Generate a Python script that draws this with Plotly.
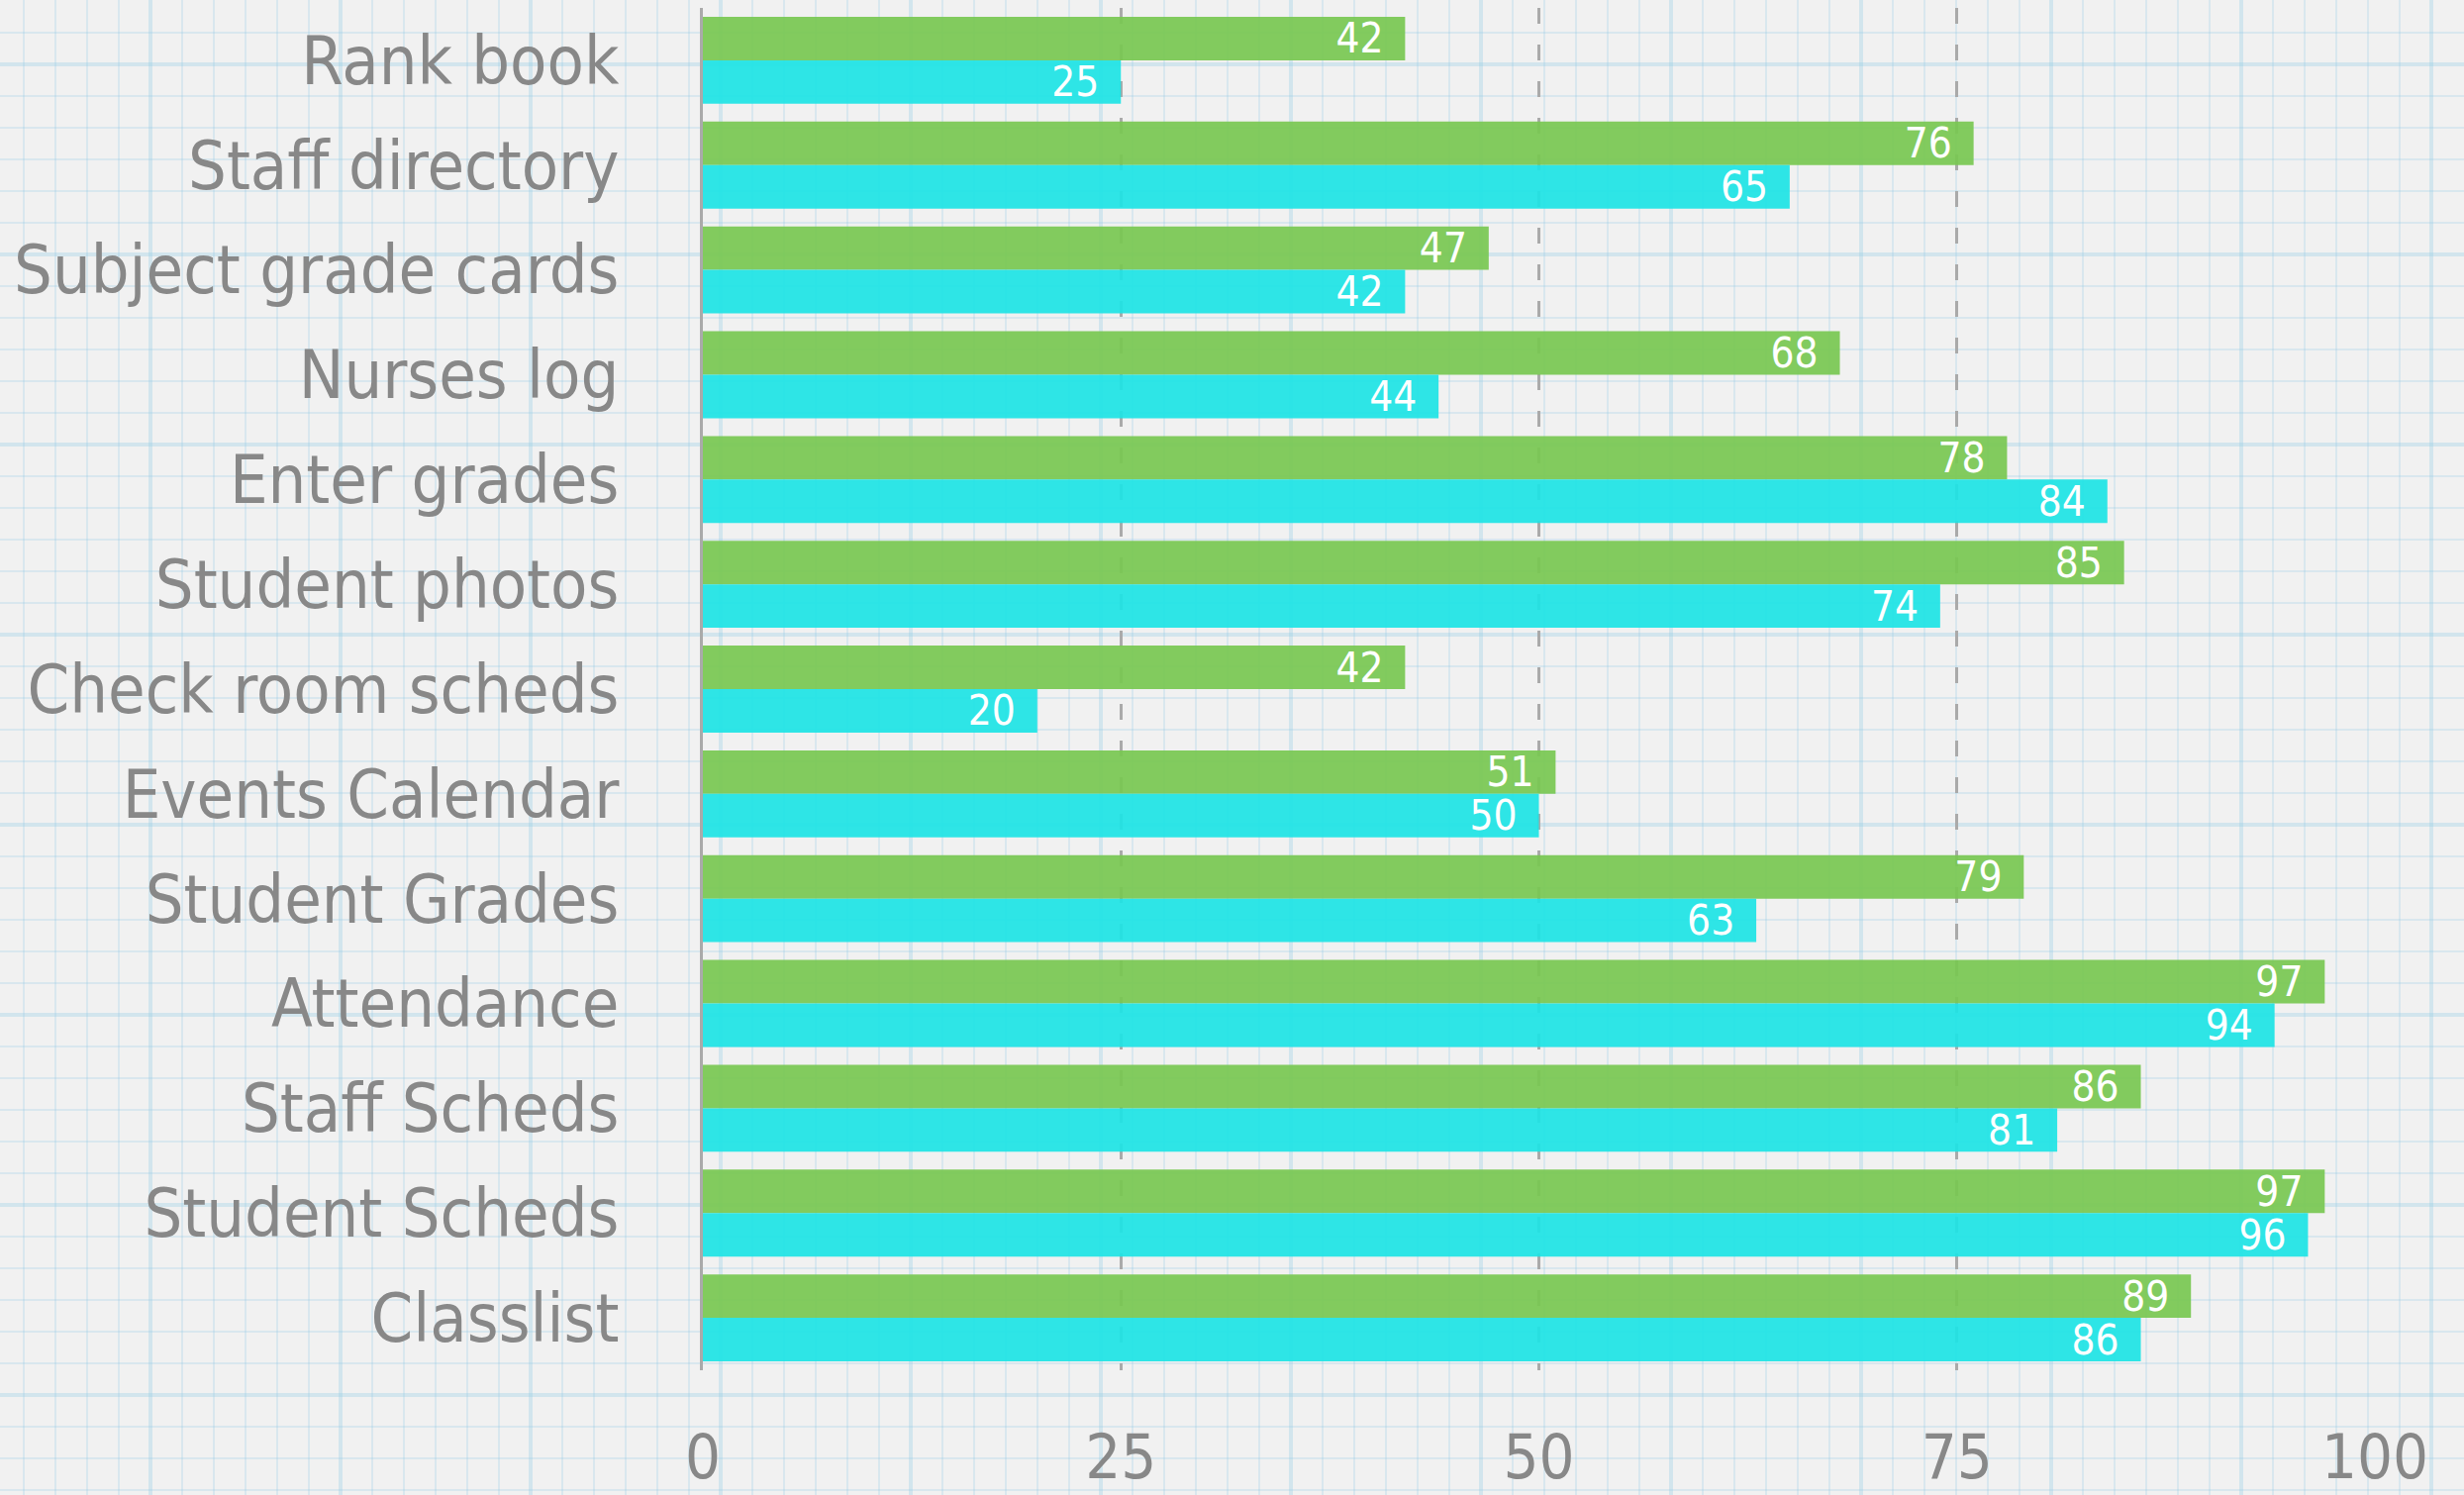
import plotly.graph_objects as go

# ---- data ----
categories = ["Rank book", "Staff directory", "Subject grade cards", "Nurses log",
              "Enter grades", "Student photos", "Check room scheds", "Events Calendar",
              "Student Grades", "Attendance", "Staff Scheds", "Student Scheds", "Classlist"]
green_vals = [42, 76, 47, 68, 78, 85, 42, 51, 79, 97, 86, 97, 89]
cyan_vals = [25, 65, 42, 44, 84, 74, 20, 50, 63, 94, 81, 96, 86]
x_tick_vals = [0, 25, 50, 75, 100]

W, H = 2489, 1510
FONT = "DejaVu Sans Condensed, Liberation Sans Narrow, DejaVu Sans, sans-serif"
LABEL_GREY = "#888888"
GREEN = "rgb(120,200,81)"
CYAN = "rgb(29,228,229)"

# graph-paper background grid positions (decoration, in pixels)
bg_x_major = list(range(152, W, 192))
bg_x_minor = [v for v in range(24, W, 32) if v not in bg_x_major]
bg_y_major = list(range(65, H, 192))
bg_y_minor = [v for v in range(1, H, 32) if v not in bg_y_major]

fig = go.Figure()

# background "graph paper" subplot (decoration only)
fig.add_trace(go.Scatter(x=[None], y=[None], xaxis="x", yaxis="y",
                         hoverinfo="skip", showlegend=False))

for vals, col, name in [(green_vals, GREEN, "Series 1"), (cyan_vals, CYAN, "Series 2")]:
    fig.add_trace(go.Bar(
        y=categories, x=vals, orientation="h", name=name,
        xaxis="x2", yaxis="y2",
        marker=dict(color=col, opacity=0.92, line=dict(width=0)),
        texttemplate="%{x}\u2002", textposition="inside", insidetextanchor="end",
        textangle=0, constraintext="none",
        textfont=dict(family=FONT, size=42, color="white"),
        hoverinfo="skip",
    ))

minor_col = "rgba(150,205,228,0.27)"
major_col = "rgba(150,205,228,0.34)"

bg_axis_common = dict(fixedrange=True, showticklabels=False, ticks="", zeroline=False,
                      showline=False, showgrid=True, tickmode="array",
                      gridcolor=major_col, gridwidth=4)

fig.update_layout(
    width=W, height=H,
    margin=dict(l=0, r=0, t=0, b=0, pad=0),
    paper_bgcolor="#f1f1f1",
    plot_bgcolor="rgba(0,0,0,0)",
    showlegend=False,
    barmode="group", bargap=0.17, bargroupgap=0,
    hovermode=False,
    font=dict(family=FONT, color=LABEL_GREY),
    xaxis=dict(domain=[0, 1], anchor="y", range=[0, W], tickvals=bg_x_major,
               minor=dict(tickmode="array", tickvals=bg_x_minor, showgrid=True,
                          gridcolor=minor_col, gridwidth=2),
               **bg_axis_common),
    yaxis=dict(domain=[0, 1], anchor="x", range=[H, 0], tickvals=bg_y_major,
               minor=dict(tickmode="array", tickvals=bg_y_minor, showgrid=True,
                          gridcolor=minor_col, gridwidth=2),
               **bg_axis_common),
    xaxis2=dict(domain=[710 / W, 2399 / W], anchor="y2", range=[0, 100], fixedrange=True,
                tickmode="array", tickvals=x_tick_vals,
                showgrid=True, gridcolor="#aaaaaa", gridwidth=3, griddash="16px,21px",
                zeroline=False, showline=False,
                ticks="outside", ticklen=32, tickcolor="rgba(0,0,0,0)",
                tickfont=dict(family=FONT, size=63, color=LABEL_GREY), automargin=False),
    yaxis2=dict(domain=[(H - 1384) / H, (H - 8) / H], anchor="x2", type="category",
                categoryorder="array", categoryarray=categories, autorange="reversed",
                fixedrange=True, showgrid=False, zeroline=False,
                showline=True, linecolor="#aaaaaa", linewidth=3,
                ticks="outside", ticklen=68, tickcolor="rgba(0,0,0,0)",
                tickfont=dict(family=FONT, size=68, color=LABEL_GREY), automargin=False),
)

fig.write_html("out.html", config={"displayModeBar": False},
               post_script="document.body.style.margin='0';document.body.style.overflow='hidden';")
